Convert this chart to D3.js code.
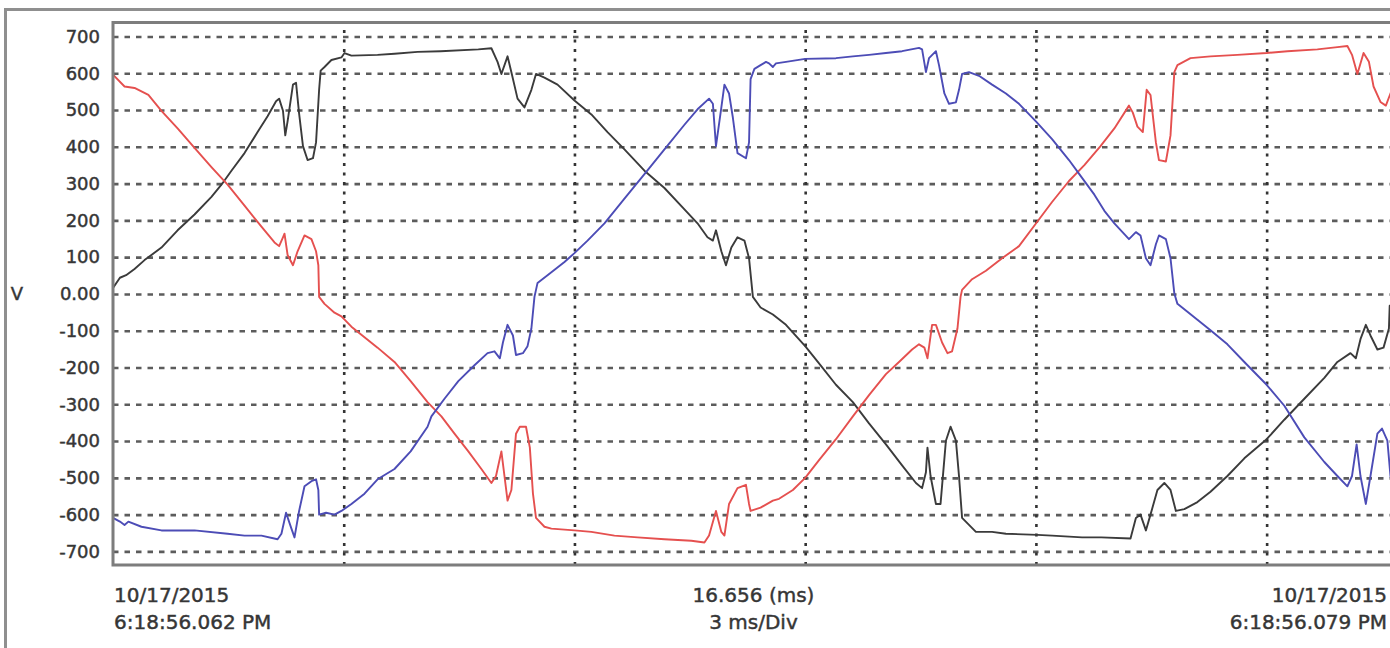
<!DOCTYPE html>
<html>
<head>
<meta charset="utf-8">
<script src="https://cdn.jsdelivr.net/npm/d3@7/dist/d3.min.js"></script>
<style>
  html, body { margin: 0; padding: 0; background: #ffffff; }
  svg { display: block; }
  text { font-family: "DejaVu Sans", Verdana, sans-serif; fill: #363636; stroke: #363636; stroke-width: 0.45px; }
</style>
</head>
<body>
<svg id="chart" width="1390" height="648"></svg>
<script>
// ---- Data (time in ms, voltage in V) ----
const timeSpanMs = 16.656;
const divisionMs = 3;
const yTicks = [-700, -600, -500, -400, -300, -200, -100, 0, 100, 200, 300, 400, 500, 600, 700];
const xGridTicks = [3, 6, 9, 12, 15];
const yUnit = "V";
const startStamp = ["10/17/2015", "6:18:56.062 PM"];
const endStamp = ["10/17/2015", "6:18:56.079 PM"];
const centerLabel = ["16.656 (ms)", "3 ms/Div"];

const phaseBlack = [
  [0.00,16],[0.09,44],[0.17,51],[0.28,68],[0.41,92],[0.63,126],[0.84,173],[1.06,216],[1.28,264],
  [1.41,297],[1.54,335],[1.71,383],[1.88,440],[2.01,483],[2.12,524],[2.16,531],[2.21,498],[2.24,431],
  [2.27,469],[2.34,569],[2.38,574],[2.42,490],[2.47,402],[2.53,364],[2.60,369],[2.64,412],[2.68,555],
  [2.70,607],[2.75,617],[2.84,636],[2.97,643],[3.01,655],[3.10,648],[3.44,650],[3.66,653],[3.96,658],
  [4.26,660],[4.75,665],[4.92,668],[5.00,631],[5.05,598],[5.13,646],[5.18,603],[5.26,531],[5.35,507],
  [5.44,555],[5.50,598],[5.61,588],[5.78,569],[6.00,526],[6.22,488],[6.43,440],[6.65,393],[6.91,335],
  [7.17,288],[7.43,230],[7.60,192],[7.73,154],[7.80,145],[7.84,173],[7.91,116],[7.97,78],[8.04,126],
  [8.12,154],[8.21,145],[8.27,97],[8.32,-8],[8.42,-37],[8.58,-56],[8.75,-84],[9.00,-142],[9.18,-189],
  [9.40,-247],[9.62,-294],[9.83,-352],[10.05,-409],[10.26,-466],[10.44,-514],[10.52,-528],[10.57,-485],
  [10.59,-418],[10.63,-495],[10.70,-571],[10.76,-571],[10.83,-399],[10.89,-361],[10.96,-399],[11.00,-495],
  [11.04,-609],[11.13,-628],[11.22,-647],[11.43,-647],[11.61,-652],[12.02,-655],[12.21,-657],[12.60,-662],
  [12.85,-662],[13.23,-665],[13.30,-609],[13.36,-600],[13.43,-643],[13.49,-600],[13.58,-533],[13.67,-514],
  [13.75,-533],[13.82,-590],[13.93,-585],[14.10,-566],[14.27,-538],[14.49,-495],[14.71,-447],[15.00,-395],
  [15.23,-342],[15.49,-285],[15.75,-228],[15.92,-185],[16.09,-161],[16.16,-175],[16.22,-123],[16.29,-84],
  [16.35,-113],[16.44,-151],[16.52,-146],[16.59,-94],[16.60,-32],[16.656,-25]
];

const phaseRed = [
  [0.00,596],[0.15,564],[0.28,560],[0.46,541],[0.63,498],[0.84,450],[1.06,397],[1.28,345],[1.49,297],
  [1.71,240],[1.93,183],[2.10,140],[2.16,130],[2.21,154],[2.23,164],[2.27,106],[2.34,78],[2.40,116],
  [2.49,159],[2.58,149],[2.64,116],[2.67,78],[2.68,-8],[2.75,-27],[2.88,-51],[2.97,-61],[3.10,-89],
  [3.27,-118],[3.44,-146],[3.66,-185],[3.87,-237],[4.09,-294],[4.27,-333],[4.44,-380],[4.62,-428],
  [4.79,-476],[4.92,-514],[4.98,-495],[5.05,-428],[5.09,-495],[5.13,-562],[5.18,-533],[5.24,-380],
  [5.29,-361],[5.37,-361],[5.42,-418],[5.46,-542],[5.50,-609],[5.61,-633],[5.70,-638],[6.00,-643],
  [6.22,-647],[6.52,-657],[6.82,-662],[7.17,-667],[7.52,-671],[7.69,-676],[7.75,-657],[7.84,-590],
  [7.91,-647],[7.95,-657],[8.01,-571],[8.12,-528],[8.23,-519],[8.27,-571],[8.29,-590],[8.42,-581],
  [8.58,-562],[8.66,-557],[8.84,-533],[9.00,-500],[9.18,-452],[9.40,-395],[9.62,-333],[9.83,-275],
  [10.05,-218],[10.22,-185],[10.39,-151],[10.48,-137],[10.55,-146],[10.59,-175],[10.65,-84],[10.70,-84],
  [10.78,-132],[10.85,-161],[10.91,-156],[10.98,-94],[11.02,-8],[11.04,11],[11.17,40],[11.35,63],
  [11.56,97],[11.78,130],[12.02,197],[12.21,250],[12.43,307],[12.63,350],[12.84,402],[13.02,450],
  [13.21,512],[13.26,493],[13.32,455],[13.39,440],[13.44,555],[13.49,541],[13.56,412],[13.60,364],
  [13.69,360],[13.75,431],[13.80,603],[13.84,622],[14.01,641],[14.27,646],[14.62,650],[15.00,655],
  [15.27,660],[15.66,665],[15.92,671],[16.05,674],[16.11,650],[16.18,598],[16.26,655],[16.33,631],
  [16.39,564],[16.48,522],[16.55,512],[16.61,545],[16.656,565]
];

const phaseBlue = [
  [0.00,-609],[0.09,-619],[0.15,-628],[0.20,-619],[0.37,-633],[0.63,-643],[1.06,-643],[1.49,-652],
  [1.71,-657],[1.93,-657],[2.14,-667],[2.19,-652],[2.25,-595],[2.32,-638],[2.36,-662],[2.42,-590],
  [2.49,-523],[2.58,-509],[2.64,-504],[2.67,-533],[2.68,-600],[2.77,-595],[2.88,-600],[2.97,-590],
  [3.10,-571],[3.27,-543],[3.44,-504],[3.66,-476],[3.87,-428],[4.09,-361],[4.14,-333],[4.31,-285],
  [4.49,-237],[4.70,-194],[4.87,-161],[4.96,-156],[5.03,-175],[5.07,-132],[5.13,-84],[5.20,-113],
  [5.24,-166],[5.33,-161],[5.39,-142],[5.44,-94],[5.48,-8],[5.52,30],[5.70,59],[5.87,87],[6.00,111],
  [6.17,145],[6.39,192],[6.65,259],[6.91,326],[7.17,393],[7.43,460],[7.60,502],[7.75,531],[7.80,517],
  [7.84,402],[7.91,507],[7.95,569],[8.01,545],[8.06,479],[8.12,383],[8.23,369],[8.27,412],[8.29,584],
  [8.34,612],[8.42,622],[8.49,631],[8.53,627],[8.58,617],[8.62,627],[8.75,631],[9.00,639],[9.40,641],
  [9.62,646],[9.83,650],[10.05,655],[10.26,660],[10.48,669],[10.52,665],[10.57,603],[10.61,641],
  [10.70,660],[10.74,622],[10.81,545],[10.87,517],[10.96,521],[11.00,555],[11.04,598],[11.13,603],
  [11.26,593],[11.43,569],[11.61,545],[11.78,517],[12.00,469],[12.21,421],[12.43,364],[12.55,330],
  [12.76,270],[12.89,226],[13.02,192],[13.21,149],[13.30,168],[13.36,159],[13.43,97],[13.49,78],
  [13.56,135],[13.60,159],[13.69,149],[13.75,97],[13.80,1],[13.84,-27],[14.10,-70],[14.27,-99],
  [14.49,-137],[14.71,-185],[15.00,-247],[15.23,-304],[15.49,-390],[15.75,-457],[15.92,-495],
  [16.05,-523],[16.11,-495],[16.17,-409],[16.22,-495],[16.29,-571],[16.35,-495],[16.44,-380],
  [16.50,-366],[16.57,-399],[16.61,-495],[16.656,-545]
];

const seriesList = [
  { name: "black", data: phaseBlack, color: "#3b3b3b" },
  { name: "red", data: phaseRed, color: "#e5504f" },
  { name: "blue", data: phaseBlue, color: "#4c4cb6" }
];

// ---- Layout ----
const W = 1390, H = 648;
const plot = { left: 113, top: 22.5, right: 1394, bottom: 565 };

const svg = d3.select("#chart");

const x = d3.scaleLinear().domain([0, timeSpanMs]).range([plot.left, plot.right]);
const y = d3.scaleLinear().domain([-737, 738]).range([plot.bottom, plot.top]);

// outer frame
svg.append("path")
  .attr("d", `M5.5,${H + 5} V9.5 H${W + 5}`)
  .attr("fill", "none").attr("stroke", "#8f8f8f").attr("stroke-width", 3);

// clip
svg.append("defs").append("clipPath").attr("id", "plotclip")
  .append("rect").attr("x", plot.left).attr("y", plot.top)
  .attr("width", plot.right - plot.left).attr("height", plot.bottom - plot.top);

// horizontal grid
const hGrid = svg.append("g").attr("transform", `translate(${plot.left},0)`)
  .call(d3.axisLeft(y).tickValues(yTicks).tickSize(-(plot.right - plot.left)).tickFormat(""));
hGrid.select(".domain").remove();
hGrid.selectAll(".tick line")
  .attr("stroke", "#5c5c5c").attr("stroke-width", 2.6).attr("stroke-dasharray", "5.5,6");

// vertical grid
const vGrid = svg.append("g").attr("transform", `translate(0,${plot.bottom})`)
  .call(d3.axisBottom(x).tickValues(xGridTicks).tickSize(-(plot.bottom - plot.top)).tickFormat(""));
vGrid.select(".domain").remove();
vGrid.selectAll(".tick line")
  .attr("stroke", "#333333").attr("stroke-width", 2.6).attr("stroke-dasharray", "3,6.5");

// y labels
const yAxis = svg.append("g").attr("transform", `translate(${plot.left},0)`)
  .call(d3.axisLeft(y).tickValues(yTicks).tickSize(0).tickPadding(13)
    .tickFormat(d => d === 0 ? "0.00" : String(d)));
yAxis.select(".domain").remove();
yAxis.selectAll(".tick text")
  .style("font-family", '"DejaVu Sans", Verdana, sans-serif')
  .style("font-size", "18px").attr("fill", "#363636");

svg.append("text").attr("x", 17).attr("y", y(0)).attr("dy", "0.35em")
  .attr("text-anchor", "middle").style("font-size", "18px").text(yUnit);

// waveforms
const line = d3.line().x(d => x(d[0])).y(d => y(d[1]));
const lines = svg.append("g").attr("clip-path", "url(#plotclip)");
seriesList.forEach(s => {
  lines.append("path").datum(s.data)
    .attr("fill", "none").attr("stroke", s.color)
    .attr("stroke-width", 1.9).attr("stroke-linejoin", "round")
    .attr("d", line);
});

// plot frame (left, top, bottom)
svg.append("path")
  .attr("d", `M${W + 5},${plot.top} H${plot.left} V${plot.bottom} H${W + 5}`)
  .attr("fill", "none").attr("stroke", "#7d7d7d").attr("stroke-width", 3);

// bottom labels
const labelSize = "20px";
const base1 = 602, base2 = 629;
[startStamp, centerLabel, endStamp].forEach((lines2, i) => {
  const anchor = i === 0 ? "start" : (i === 1 ? "middle" : "end");
  const xp = i === 0 ? plot.left + 1 : (i === 1 ? (plot.left + plot.right) / 2 : 1387);
  lines2.forEach((t, j) => {
    svg.append("text").attr("x", xp).attr("y", j === 0 ? base1 : base2)
      .attr("text-anchor", anchor).style("font-size", labelSize).text(t);
  });
});
</script>
</body>
</html>
